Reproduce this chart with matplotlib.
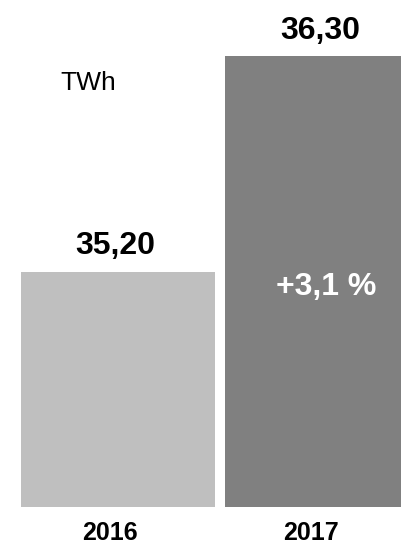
import matplotlib
matplotlib.use("Agg")
import matplotlib.pyplot as plt

years = ["2016", "2017"]
values = [35.20, 36.30]
value_labels = ["35,20", "36,30"]
change_label = "+3,1 %"
unit = "TWh"
colors = ["#BFBFBF", "#808080"]
baseline = 34.0

plt.rcParams['font.family'] = ['Liberation Sans', 'DejaVu Sans']

fig = plt.figure(figsize=(4.01, 5.45), dpi=100)
ax = fig.add_axes([0, 0, 1, 1])
ax.axis('off')

x = [0, 1]
heights = [v - baseline for v in values]
ax.bar(x, heights, bottom=baseline, width=0.951, color=colors)

ax.set_xlim(-0.578, 1.388)
ax.set_ylim(baseline - 38 / 196, baseline + 507 / 196)

label_dx = [-2, -1]
for xi, v, lab, dx in zip(x, values, value_labels, label_dx):
    ax.annotate(lab, (xi, v), xytext=(dx, 18.5), textcoords='offset points',
                ha='center', va='center', fontsize=23, fontweight='bold', color='black')

year_dx = [-6, -8]
for xi, yr, dx in zip(x, years, year_dx):
    ax.annotate(yr, (xi, baseline), xytext=(dx, -19), textcoords='offset points',
                ha='center', va='center', fontsize=18, fontweight='bold', color='black')

ax.annotate(change_label, (1, values[1]), xytext=(3, -166), textcoords='offset points',
            ha='center', va='center', fontsize=23, fontweight='bold', color='white')

fig.text(88 / 401, 1 - 83 / 545, unit, ha='center', va='center', fontsize=19, color='black')

fig.savefig("out.png", dpi=100)
